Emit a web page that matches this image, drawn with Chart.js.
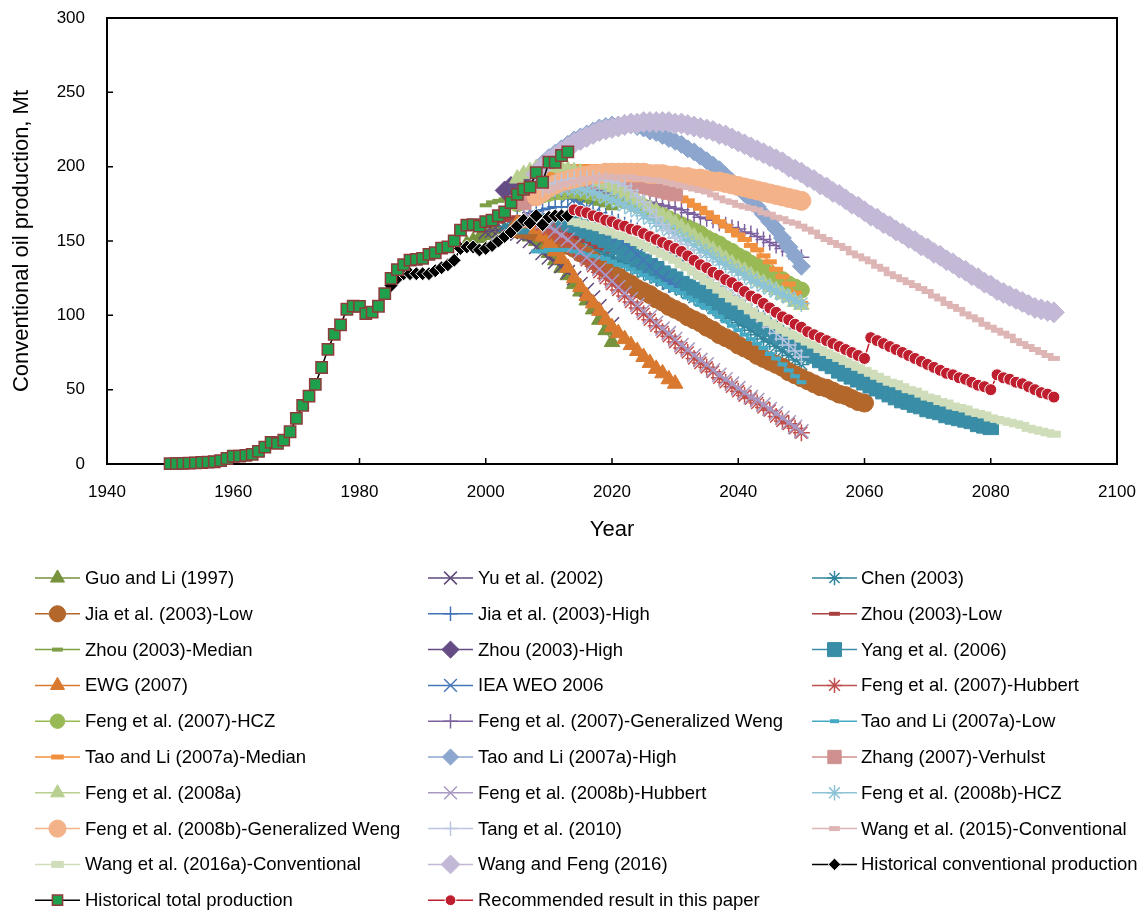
<!DOCTYPE html>
<html lang="en">
  <head>
    <meta charset="UTF-8" />
    <title>Conventional oil production forecasts</title>
    <script src="https://cdn.jsdelivr.net/npm/chart.js@4.4.1/dist/chart.umd.min.js"></script>
    <style>
      body { margin: 0; background: #ffffff; }
      canvas { display: block; }
    </style>
  </head>
  <body>
    <canvas id="oilChart" width="1143" height="910"></canvas>

    <script>
      // yearly production, Mt; each series begins at its *Start year
      const guoLiStart = 1997;
      const guoLi = [148,150,152,154,155,156,157,157,156,155,153,150,146,142,137,132,127,121,116,110,104,97,90,82];

      const yuStart = 2000;
      const yu = [156,157,157,157,156,155,153,150,146,142,139,136,133,129,125,121,117,112,106,100,94];

      const chenStart = 2003;
      const chen = [160,161,161,161,160,160,159,158,156,154,
        152,150,148,146,145,143,141,139,137,135,
        133,131,129,127,125,123,121,119,117,115,
        112,110,108,105,103,100,98,95,93,90,
        87,84,82,79,76,73,70,67];

      const jiaLowStart = 2005;
      const jiaLow = [158,158,157,156,155,153,151,149,147,145,
        142,140,137,134,131,128,126,123,121,118,
        116,114,111,109,106,104,102,99,97,95,
        92,90,87,85,83,80,78,76,73,71,
        69,67,65,62,60,58,56,54,52,51,
        49,47,46,44,42,41];

      const jiaHighStart = 2005;
      const jiaHigh = [165,167,169,170,171,172,173,173,173,173,
        172,171,170,169,167,165,163,161,159,157,
        154,152,149,146,143,140,137,134,131,128,
        125,122,119,116,113,110,107,104,101,98,
        95,92,89,86,83,80];

      const zhouLowStart = 2000;
      const zhouLow = [160,162,163,164,165,166,165,164,163,161,160,158,157,155,153,152,150,148,146,145,143];

      const zhouMedStart = 2000;
      const zhouMed = [174,176,177,178,179,180,180,181,181,181,181,181,180,180,179,178,177,176,175,174,172];

      const zhouHighStart = 2003;
      const zhouHigh = [184,187,189,190,191,192,193,194,194,195,195,195,195,195,194,194,193,192];

      const yangStart = 2006;
      const yang = [160,161,162,163,163,163,163,162,161,159,
        157,155,153,151,148,146,143,141,138,136,
        133,131,128,126,124,121,119,117,115,113,
        111,108,106,104,102,100,98,96,93,91,
        88,86,83,80,78,75,73,70,68,66,
        63,61,59,57,55,53,51,49,47,45,
        43,42,40,39,37,36,35,33,32,31,
        30,29,27,26,25];

      const ewgStart = 2005;
      const ewg = [162,163,162,158,153,148,143,138,132,125,
        119,113,108,103,97,92,88,84,80,76,
        72,68,64,61,57,54];

      const ieaStart = 2005;
      const iea = [181,182,183,184,184,184,183,182,180,178,
        175,172,168,165,161,157,153,149,145,141,
        137,133,129,125,122,120];

      const feng07HubStart = 2007;
      const feng07Hub = [164,163,161,158,155,152,149,145,141,137,
        133,129,125,121,117,113,109,105,101,97,
        93,89,86,82,78,75,71,68,65,62,
        58,55,52,49,46,44,41,38,36,32,
        29,27,24,21];

      const feng07HczStart = 2005;
      const feng07Hcz = [175,177,179,180,181,182,183,183,184,184,
        184,183,183,182,181,180,179,177,176,174,
        173,171,169,167,165,163,161,159,157,155,
        152,150,148,145,143,140,138,135,133,131,
        128,126,124,121,119,117];

      const feng07GwStart = 2005;
      const feng07Gw = [175,177,179,181,182,183,184,185,185,185,
        185,185,184,184,183,182,181,180,179,178,
        177,176,175,174,173,172,171,169,168,166,
        165,164,162,161,159,158,156,155,153,151,
        149,147,145,143,141,139];

      const taoLowStart = 2008;
      const taoLow = [143,143,144,144,144,144,143,142,141,140,
        139,138,136,134,133,131,129,127,125,123,
        121,119,117,115,112,110,107,105,102,99,
        96,93,90,87,84,81,78,74,71,67,
        63,59,55];

      const taoMedStart = 2007;
      const taoMed = [185,189,192,195,197,198,199,200,200,200,
        200,200,199,199,198,197,195,194,192,190,
        188,186,184,182,179,177,174,172,169,166,
        163,160,157,154,151,147,144,140,136,131,
        126,121,115,108];

      const taoHighStart = 2008;
      const taoHigh = [197,202,206,209,212,215,218,220,
        222,224,226,227,228,228,229,228,227,226,
        224,223,221,219,217,215,212,210,207,204,
        201,198,194,190,186,182,178,173,168,163,
        158,152,146,140,133];

      const zhangStart = 2006;
      const zhang = [176,179,182,184,186,187,188,189,190,190,
        190,190,190,190,190,189,189,188,188,187,
        186,185,184,183,182];

      const feng08aStart = 2005;
      const feng08a = [192,195,197,199,200,200,200,199,198,197,
        196,194,192,190,188,186,184,182,179,177,
        175,172,170,167,165,162,159,156,153,150,
        147,144,141,138,135,132,130,127,124,122,
        119,117,114,112,109,107];

      const feng08bHubStart = 2007;
      const feng08bHub = [166,165,163,160,157,154,151,147,143,139,
        135,131,127,123,119,115,111,107,103,99,
        95,91,88,84,80,77,73,70,67,63,
        60,57,54,51,48,45,43,40,37,34,
        31,28,25,22];

      const feng08bHczStart = 2008;
      const feng08bHcz = [180,182,184,185,186,186,185,185,184,183,
        181,179,178,176,174,172,170,167,165,162,
        160,157,155,152,150,147,144,142,139,136,
        134,131,129,127,124,122,120,118,116,114,
        112,110,108];

      const feng08bGwStart = 2008;
      const feng08bGw = [180,183,186,188,190,191,192,193,194,195,
        195,196,196,196,196,196,196,196,195,195,
        195,194,194,193,193,192,192,191,190,190,
        189,188,187,186,185,184,183,182,181,180,
        179,178,177];

      const tangStart = 2009;
      const tang = [185,187,189,190,191,192,192,192,192,191,
        191,190,189,187,184,180,176,171,166,161,
        157,152,148,144,140,136,132,128,124,120,
        116,112,108,104,100,96,92,88,84,80,
        76,72];

      const wang15Start = 2010;
      const wang15 = [184,186,188,189,190,191,192,192,193,193,
        193,193,193,193,192,192,191,191,190,189,
        188,187,186,185,184,183,181,179,177,176,
        174,173,172,171,169,168,166,165,163,162,
        160,158,156,153,151,149,147,145,142,140,
        138,136,133,131,128,126,124,122,120,118,
        116,113,111,108,106,104,101,99,97,94,
        92,90,88,86,83,81,79,77,75,73,
        71];

      const wang16aStart = 2014;
      const wang16a = [163,162,161,160,159,157,
        156,154,153,151,149,147,145,143,141,139,
        137,134,132,129,126,123,120,117,114,111,
        109,106,103,100,98,95,93,90,88,86,
        84,82,80,77,75,73,71,69,67,65,
        63,61,59,57,55,54,52,50,49,47,
        45,44,42,41,39,38,37,35,34,33,
        31,30,29,28,27,26,24,23,22,21,
        20];

      const wangFengStart = 2008;
      const wangFeng = [195,200,
        204,207,210,213,216,218,220,222,224,225,
        226,227,228,229,229,230,230,230,230,230,
        229,229,228,227,226,225,224,222,221,219,
        217,215,213,211,209,207,205,203,200,198,
        196,193,191,188,186,183,181,178,175,173,
        170,167,165,162,160,157,155,152,150,147,
        145,142,140,137,135,132,130,127,125,122,
        120,117,115,113,111,109,107,105,104,103,
        102];

      const histConvStart = 1985;
      const histConv = [120,125,128,128,128,128,128,130,132,134,
        137,145,146,146,144,145,147,150,153,156,
        160,164,162,167,161,166,167,167,167];

      const histTotalStart = 1950;
      const histTotal = [0.2,0.3,0.4,0.6,0.8,1.0,1.2,1.5,2.3,3.7,
        5.2,5.3,5.8,6.5,8.5,11.3,14.6,13.9,16.0,21.7,
        30.7,39.4,45.7,53.6,64.9,77.1,87.2,93.6,104.1,106.2,
        106.0,101.2,102.1,106.1,114.6,124.9,130.7,134.1,137.1,137.6,
        138.3,141.0,142.1,145.2,146.1,150.1,157.3,160.7,161.0,160.0,
        163.0,164.0,167.0,169.6,175.9,181.4,184.8,186.3,196.0,189.5,
        203.0,202.9,207.5,209.9];

      const recommendedStart = 2014;
      const recommended = [171,170,169,167,166,164,163,161,160,158,
        157,155,153,151,149,147,145,143,140,137,
        134,132,129,127,124,122,119,116,113,111,
        108,105,102,99,97,94,92,89,87,85,
        83,81,79,77,75,73,71,
        85,83,81,79,77,75,73,71,69,67,
        65,63,61,60,58,57,55,53,52,50,
        60,58,57,55,54,52,50,48,47,45];

      // legend order (row by row, three columns)
      const series = [
        { label: "Guo and Li (1997)", start: guoLiStart, values: guoLi, color: "#76923C", style: "triangle", r: 9 },
        { label: "Yu et al. (2002)", start: yuStart, values: yu, color: "#604A7B", style: "crossRot", r: 10, bw: 1.5 },
        { label: "Chen (2003)", start: chenStart, values: chen, color: "#31859C", style: "star", r: 8, bw: 1.5 },
        { label: "Jia et al. (2003)-Low", start: jiaLowStart, values: jiaLow, color: "#B3672B", style: "circle", r: 9 },
        { label: "Jia et al. (2003)-High", start: jiaHighStart, values: jiaHigh, color: "#3F73B5", style: "cross", r: 8, bw: 1.5 },
        { label: "Zhou (2003)-Low", start: zhouLowStart, values: zhouLow, color: "#A8423F", style: "line", r: 6, bw: 4 },
        { label: "Zhou (2003)-Median", start: zhouMedStart, values: zhouMed, color: "#7E9F46", style: "line", r: 6, bw: 4 },
        { label: "Zhou (2003)-High", start: zhouHighStart, values: zhouHigh, color: "#654C85", style: "rectRot", r: 9.5 },
        { label: "Yang et al. (2006)", start: yangStart, values: yang, color: "#3A8DA6", style: "rect", r: 11 },
        { label: "EWG (2007)", start: ewgStart, values: ewg, color: "#D8792F", style: "triangle", r: 9 },
        { label: "IEA WEO 2006", start: ieaStart, values: iea, color: "#4677B8", style: "crossRot", r: 10, bw: 1.5 },
        { label: "Feng et al. (2007)-Hubbert", start: feng07HubStart, values: feng07Hub, color: "#C0504D", style: "star", r: 8.5, bw: 1.5 },
        { label: "Feng et al. (2007)-HCZ", start: feng07HczStart, values: feng07Hcz, color: "#98B954", style: "circle", r: 8 },
        { label: "Feng et al. (2007)-Generalized Weng", start: feng07GwStart, values: feng07Gw, color: "#7D609E", style: "cross", r: 8, bw: 1.5 },
        { label: "Tao and Li (2007a)-Low", start: taoLowStart, values: taoLow, color: "#46A9C4", style: "line", r: 5, bw: 4 },
        { label: "Tao and Li (2007a)-Median", start: taoMedStart, values: taoMed, color: "#F0913F", style: "line", r: 7, bw: 5 },
        { label: "Tao and Li (2007a)-High", start: taoHighStart, values: taoHigh, color: "#8CA6CE", style: "rectRot", r: 9 },
        { label: "Zhang (2007)-Verhulst", start: zhangStart, values: zhang, color: "#CF918F", style: "rect", r: 10.5 },
        { label: "Feng et al. (2008a)", start: feng08aStart, values: feng08a, color: "#B8CF90", style: "triangle", r: 9 },
        { label: "Feng et al. (2008b)-Hubbert", start: feng08bHubStart, values: feng08bHub, color: "#A898C2", style: "crossRot", r: 10, bw: 1.5 },
        { label: "Feng et al. (2008b)-HCZ", start: feng08bHczStart, values: feng08bHcz, color: "#8DC3D6", style: "star", r: 8.5, bw: 1.5 },
        { label: "Feng et al. (2008b)-Generalized Weng", start: feng08bGwStart, values: feng08bGw, color: "#F4B289", style: "circle", r: 9.5 },
        { label: "Tang et al. (2010)", start: tangStart, values: tang, color: "#BAC6DF", style: "cross", r: 8, bw: 1.5 },
        { label: "Wang et al. (2015)-Conventional", start: wang15Start, values: wang15, color: "#DDB5B4", style: "line", r: 6, bw: 5 },
        { label: "Wang et al. (2016a)-Conventional", start: wang16aStart, values: wang16a, color: "#CFDDBA", style: "line", r: 7, bw: 7 },
        { label: "Wang and Feng (2016)", start: wangFengStart, values: wangFeng, color: "#C3B9D6", style: "rectRot", r: 10.5 },
        { label: "Historical conventional production", start: histConvStart, values: histConv, color: "#000000", style: "rectRot", r: 7, fill: "#000000", edge: "#FFFFFF", bw: 1 },
        { label: "Historical total production", start: histTotalStart, values: histTotal, color: "#000000", style: "rect", r: 8, fill: "#1FA04C", edge: "#8E3B3B", bw: 1.5 },
        { label: "Recommended result in this paper", start: recommendedStart, values: recommended, color: "#BE1E2D", style: "circle", r: 6, fill: "#BE1E2D", edge: "#FFFFFF", bw: 1 },
      ];

      const strokeOnly = ["cross", "crossRot", "star", "line"];

      const datasets = series.map((s, i) => ({
        label: s.label,
        data: s.values.map((v, k) => ({ x: s.start + k, y: v })),
        showLine: true,
        borderColor: s.color,
        borderWidth: 1.5,
        pointStyle: s.style,
        pointRadius: s.r,
        pointBackgroundColor: s.fill || s.color,
        pointBorderColor: s.edge || s.color,
        pointBorderWidth: s.bw || (strokeOnly.includes(s.style) ? 1.5 : 1),
        clip: false,
        // later series sit on top
        order: series.length - 1 - i,
      }));

      // plot frame with inward tick marks
      const framePlugin = {
        id: "frame",
        beforeDatasetsDraw(chart) {
          const { ctx, chartArea: a, scales } = chart;
          ctx.save();
          ctx.strokeStyle = "#000";
          ctx.lineWidth = 2;
          ctx.strokeRect(a.left, a.top, a.right - a.left, a.bottom - a.top);
          ctx.lineWidth = 1.5;
          ctx.beginPath();
          scales.x.ticks.forEach((t) => {
            const px = scales.x.getPixelForValue(t.value);
            ctx.moveTo(px, a.bottom);
            ctx.lineTo(px, a.bottom - 6);
          });
          scales.y.ticks.forEach((t) => {
            const py = scales.y.getPixelForValue(t.value);
            ctx.moveTo(a.left, py);
            ctx.lineTo(a.left + 6, py);
          });
          ctx.stroke();
          ctx.restore();
        },
      };

      // three-column legend under the plot
      const legendPlugin = {
        id: "gridLegend",
        afterDraw(chart) {
          const { ctx } = chart;
          const colLine = [35, 428, 812];
          const colText = [85, 478, 861];
          const top = 578;
          const step = 35.8;
          ctx.save();
          ctx.font = '18.5px "Liberation Sans", Arial, sans-serif';
          ctx.textBaseline = "middle";
          chart.data.datasets.forEach((ds, i) => {
            const col = i % 3;
            const row = Math.floor(i / 3);
            const y = top + row * step;
            const x0 = colLine[col];
            ctx.strokeStyle = ds.borderColor;
            ctx.lineWidth = 1.5;
            ctx.beginPath();
            ctx.moveTo(x0, y);
            ctx.lineTo(x0 + 45, y);
            ctx.stroke();
            ctx.fillStyle = ds.pointBackgroundColor;
            ctx.strokeStyle = ds.pointBorderColor;
            ctx.lineWidth = ds.pointBorderWidth;
            Chart.helpers.drawPoint(
              ctx,
              { pointStyle: ds.pointStyle, radius: ds.pointRadius * 0.9, rotation: 0, borderWidth: ds.pointBorderWidth },
              x0 + 22.5,
              y
            );
            ctx.fillStyle = "#000";
            ctx.fillText(ds.label, colText[col], y + 1);
          });
          ctx.restore();
        },
      };

      Chart.defaults.font.family = '"Liberation Sans", Arial, sans-serif';
      Chart.defaults.color = "#000";

      new Chart(document.getElementById("oilChart"), {
        type: "scatter",
        data: { datasets },
        options: {
          responsive: false,
          animation: false,
          events: [],
          layout: { padding: { top: 18, right: 26, bottom: 366, left: 0 } },
          plugins: { legend: { display: false }, tooltip: { enabled: false } },
          scales: {
            x: {
              type: "linear",
              min: 1940,
              max: 2100,
              ticks: { stepSize: 20, padding: 18, font: { size: 17 }, callback: (v) => String(v) },
              grid: { display: false, drawTicks: false },
              border: { display: false },
              title: { display: true, text: "Year", font: { size: 22 }, padding: { top: 0, bottom: 1 } },
              afterFit: (s) => {
                s.height = 80;
                s.paddingLeft = 0;
                s.paddingRight = 0;
              },
            },
            y: {
              min: 0,
              max: 300,
              ticks: { stepSize: 50, padding: 22, font: { size: 17 } },
              grid: { display: false, drawTicks: false },
              border: { display: false },
              title: { display: true, text: "Conventional oil production, Mt", font: { size: 22 }, padding: { top: 9, bottom: 0 } },
              afterFit: (s) => {
                s.width = 107;
                s.paddingTop = 0;
                s.paddingBottom = 0;
              },
            },
          },
        },
        plugins: [framePlugin, legendPlugin],
      });
    </script>
  </body>
</html>
